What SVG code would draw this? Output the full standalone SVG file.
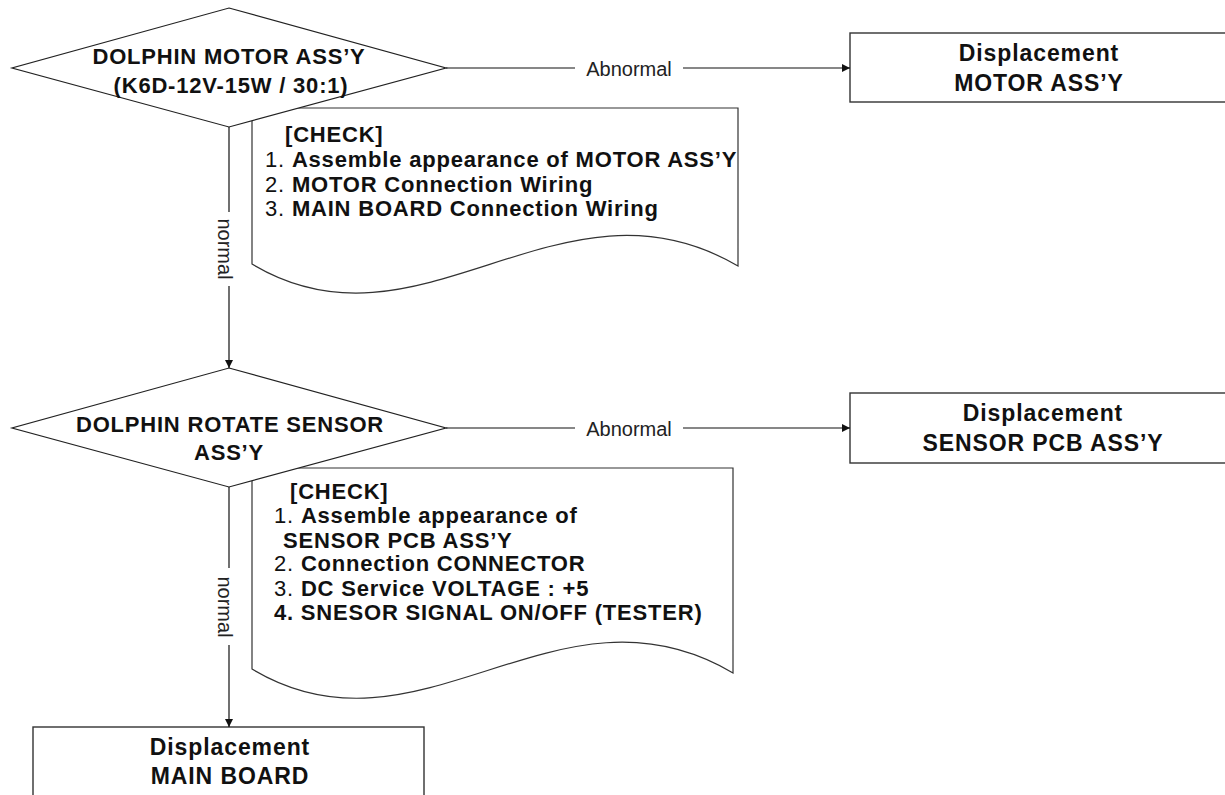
<svg xmlns="http://www.w3.org/2000/svg" width="1225" height="795" viewBox="0 0 1225 795">
<defs>
<style>
.shape{fill:#fff;stroke:#222;stroke-width:1.2}
.doc{fill:#fff;stroke:#333;stroke-width:1.2}
.box{fill:#fff;stroke:#333;stroke-width:1.4}
.con{fill:none;stroke:#111;stroke-width:1.2}
.b{font-family:"Liberation Sans",Arial,sans-serif;font-weight:bold;font-size:22px;letter-spacing:0.8px;fill:#111}
.bb{font-family:"Liberation Sans",Arial,sans-serif;font-weight:bold;font-size:23px;letter-spacing:0.9px;fill:#111}
.r{font-weight:normal}
.lbl{font-family:"Liberation Sans",Arial,sans-serif;font-size:20px;fill:#222}
</style>
<marker id="arr" viewBox="0 0 10 10" refX="10" refY="5" markerWidth="8" markerHeight="10" markerUnits="userSpaceOnUse" orient="auto">
<path d="M0,0 L10,5 L0,10 Z" fill="#111"/>
</marker>
</defs>

<g id="doc1">
<path class="doc" d="M252,108 H738 V266 C560,162 420,365 252,264 Z"/>
<text class="b" x="285" y="142">[CHECK]</text>
<text class="b" x="265" y="167"><tspan class="r">1. </tspan>Assemble appearance of MOTOR ASS’Y</text>
<text class="b" x="265" y="192"><tspan class="r">2. </tspan>MOTOR Connection Wiring</text>
<text class="b" x="265" y="216"><tspan class="r">3. </tspan>MAIN BOARD Connection Wiring</text>
</g>

<g id="doc2">
<path class="doc" d="M252,468 H733 V673 C557,569 420,770 252,669 Z"/>
<text class="b" x="290" y="499">[CHECK]</text>
<text class="b" x="274" y="523"><tspan class="r">1. </tspan>Assemble appearance of</text>
<text class="b" x="283" y="548">SENSOR PCB ASS’Y</text>
<text class="b" x="274" y="571"><tspan class="r">2. </tspan>Connection CONNECTOR</text>
<text class="b" x="274" y="596"><tspan class="r">3. </tspan>DC Service VOLTAGE : +5</text>
<text class="b" x="274" y="620">4. SNESOR SIGNAL ON/OFF (TESTER)</text>
</g>

<g id="decision1">
<polygon class="shape" points="229,8 446,68 229,127 12,68"/>
<text class="b" x="229" y="64" text-anchor="middle">DOLPHIN MOTOR ASS’Y</text>
<text class="b" x="231" y="93" text-anchor="middle">(K6D-12V-15W / 30:1)</text>
</g>

<g id="decision2">
<polygon class="shape" points="229,368 446,428 229,487 12,428"/>
<text class="b" x="230" y="432" text-anchor="middle">DOLPHIN ROTATE SENSOR</text>
<text class="b" x="229" y="460" text-anchor="middle">ASS’Y</text>
</g>

<g id="box-motor">
<rect class="box" x="850" y="33" width="400" height="69"/>
<text class="bb" x="1039" y="61" text-anchor="middle">Displacement</text>
<text class="bb" x="1039" y="91" text-anchor="middle">MOTOR ASS’Y</text>
</g>

<g id="box-sensor">
<rect class="box" x="850" y="393" width="400" height="70"/>
<text class="bb" x="1043" y="421" text-anchor="middle">Displacement</text>
<text class="bb" x="1043" y="451" text-anchor="middle">SENSOR PCB ASS’Y</text>
</g>

<g id="box-main">
<rect class="box" x="33" y="727" width="391" height="90"/>
<text class="bb" x="230" y="755" text-anchor="middle">Displacement</text>
<text class="bb" x="230" y="784" text-anchor="middle">MAIN BOARD</text>
</g>

<g id="connectors">
<line class="con" x1="446" y1="68" x2="575" y2="68"/>
<line class="con" x1="683" y1="68" x2="850" y2="68" marker-end="url(#arr)"/>
<text class="lbl" x="629" y="76" text-anchor="middle">Abnormal</text>

<line class="con" x1="446" y1="428" x2="575" y2="428"/>
<line class="con" x1="683" y1="428" x2="850" y2="428" marker-end="url(#arr)"/>
<text class="lbl" x="629" y="436" text-anchor="middle">Abnormal</text>

<line class="con" x1="229" y1="127" x2="229" y2="212"/>
<line class="con" x1="229" y1="286" x2="229" y2="368" marker-end="url(#arr)"/>
<text class="lbl" transform="translate(218,249) rotate(90)" text-anchor="middle">normal</text>

<line class="con" x1="229" y1="487" x2="229" y2="568"/>
<line class="con" x1="229" y1="645" x2="229" y2="727" marker-end="url(#arr)"/>
<text class="lbl" transform="translate(218,607) rotate(90)" text-anchor="middle">normal</text>
</g>
</svg>
